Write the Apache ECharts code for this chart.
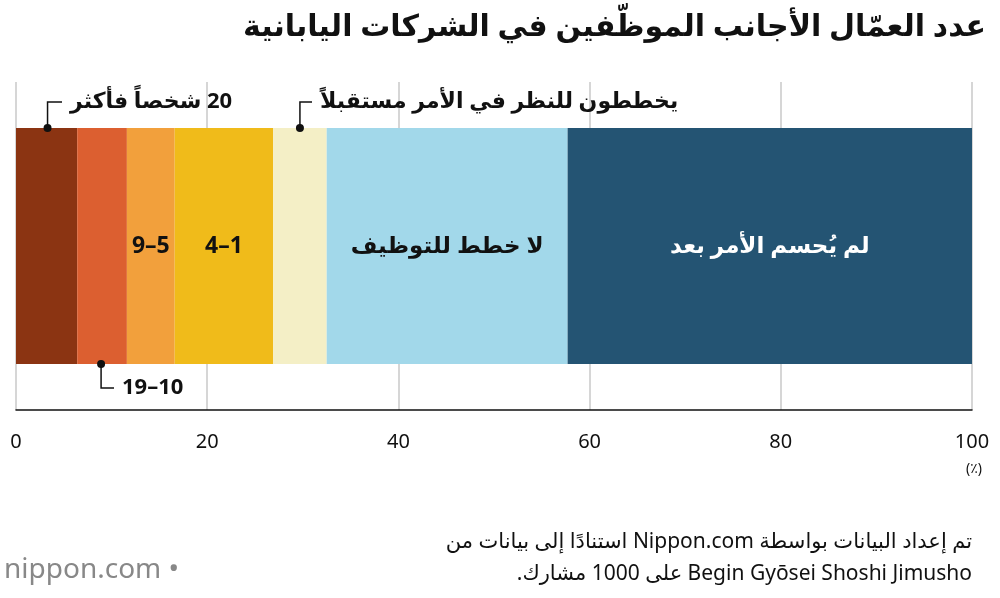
<!DOCTYPE html>
<html>
<head>
<meta charset="utf-8">
<script src="https://cdn.jsdelivr.net/npm/echarts@6/dist/echarts.min.js"></script>
<style>
  body { margin: 0; background: #fff; }
  #chart { width: 1000px; height: 598px; direction: rtl; }
</style>
</head>
<body>
<div id="chart" dir="rtl"></div>
<script>
const segmentNames = ['20 شخصاً فأكثر', '10–19', '5–9', '1–4', 'يخططون للنظر في الأمر مستقبلاً', 'لا خطط للتوظيف', 'لم يُحسم الأمر بعد'];
const segmentValues = [6.4, 5.2, 5.0, 10.3, 5.6, 25.2, 42.3];
const segmentColors = ['#8b3412', '#dc5f30', '#f2a03c', '#f0bb1a', '#f4efc6', '#a2d8ea', '#245473'];
const insideLabel = [false, false, true, true, false, true, true];
const labelColors = ['#111', '#111', '#111', '#111', '#111', '#111', '#fff'];
const xTicks = [0, 20, 40, 60, 80, 100];

const font = '"Noto Sans", "DejaVu Sans", sans-serif';
const chart = echarts.init(document.getElementById('chart'));

const series = segmentValues.map((v, i) => ({
  name: segmentNames[i],
  type: 'bar',
  stack: 'all',
  barWidth: 236,
  data: [v],
  itemStyle: { color: segmentColors[i] },
  label: {
    show: insideLabel[i],
    position: 'inside',
    formatter: segmentNames[i],
    color: labelColors[i],
    fontSize: 23,
    fontWeight: 'bold',
    fontFamily: font
  }
}));

chart.setOption({
  animation: false,
  grid: { left: 16, right: 28, top: 82, bottom: 188 },
  xAxis: {
    type: 'value', min: 0, max: 100, interval: 20,
    axisLine: { show: true, lineStyle: { color: '#111', width: 1.5 } },
    axisTick: { show: false },
    axisLabel: { color: '#111', fontSize: 20, margin: 22, fontFamily: font,
      formatter: (v) => xTicks.includes(v) ? String(v) : '' },
    splitLine: { show: true, lineStyle: { color: '#c8c8c8', width: 1.5 } }
  },
  yAxis: { type: 'category', data: [''], show: false },
  series: series
});

const barTop = 128, barBottom = 364;
function px(v) { return chart.convertToPixel({ xAxisIndex: 0 }, v); }

function callout(value, yEnd, yDot, text, textX) {
  const x = px(value);
  return [
    { type: 'circle', shape: { cx: x, cy: yDot, r: 4 }, style: { fill: '#111' }, z: 10 },
    { type: 'polyline', shape: { points: [[x, yDot], [x, yEnd], [textX - 8, yEnd]] },
      style: { stroke: '#111', lineWidth: 1.5, fill: null }, z: 10 },
    { type: 'text', x: textX, y: yEnd, style: { text: text, fontSize: 22, fontWeight: 'bold',
      fontFamily: font, fill: '#111', verticalAlign: 'middle', align: 'left' }, z: 10 }
  ];
}

chart.setOption({
  graphic: [
    { type: 'text', right: 14, top: 12, style: { text: 'عدد العمّال الأجانب الموظّفين في الشركات اليابانية',
      fontSize: 30, fontWeight: 'bold', fontFamily: font, fill: '#111' } },
    ...callout(3.3, 102, barTop, segmentNames[0], 70),
    ...callout(29.7, 102, barTop, segmentNames[4], 320),
    ...callout(8.9, 388, barBottom, segmentNames[1], 122),
    { type: 'text', x: px(100) - 6, y: 462, style: { text: '(٪)', fontSize: 14, fontFamily: font, fill: '#111' } },
    { type: 'text', right: 28, top: 532, style: { text: 'تم إعداد البيانات بواسطة Nippon.com استنادًا إلى بيانات من',
      fontSize: 21, fontFamily: font, fill: '#111', align: 'right' } },
    { type: 'text', right: 28, top: 564, style: { text: 'Begin Gyōsei Shoshi Jimusho على 1000 مشارك.',
      fontSize: 21, fontFamily: font, fill: '#111', align: 'right' } },
    { type: 'text', left: 4, top: 556, style: { text: '• nippon.com', fontSize: 28, fontFamily: font, fill: '#888' } }
  ]
});
</script>
</body>
</html>
